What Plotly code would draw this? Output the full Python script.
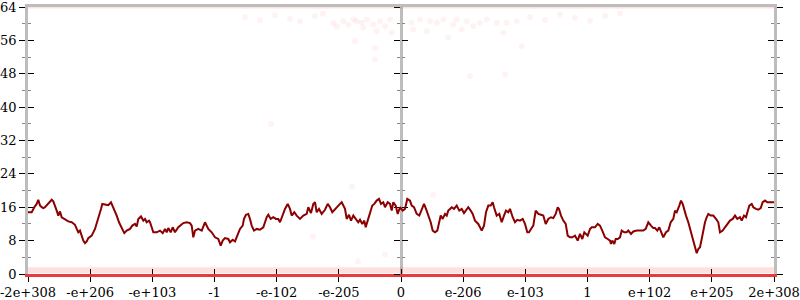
import plotly.graph_objects as go

# x positions are ordinal offsets from 0 (the axis spans -373..373, 13 evenly spaced ticks)
x_tick_labels = ["-2e+308", "-e+206", "-e+103", "-1", "-e-102", "-e-205", "0",
                 "e-206", "e-103", "1", "e+102", "e+205", "2e+308"]
y_tick_values = [0, 8, 16, 24, 32, 40, 48, 56, 64]

line_x = [
    -373, -369.3, -366.7, -364.3, -362.7, -361, -359.3, -357.7, -356, -354.3, -352, -349.3, -347.7, -346,
    -344.3, -342.7, -341, -339.3, -336, -332.7, -329.3, -326, -324.3, -322.7, -321, -319.3, -317.7, -316,
    -314.3, -312.7, -309.3, -306, -302.7, -300, -298.7, -296, -292.7, -290, -288.7, -286.7, -284.3, -282,
    -279.3, -276.7, -274.3, -271, -268.7, -266, -264.3, -262.7, -260, -257.7, -256, -254.3, -252,
    -251, -249.3, -247.7, -244.3, -241, -238.3, -236, -234.3, -232.7, -230.3, -228.3, -226, -222.7, -217.7,
    -214.3, -211, -209.3, -207.7, -206, -202.7, -199.3, -196, -192.7, -189.3, -186, -182.7, -180.3, -178.3,
    -176, -172.7, -171, -168.3, -166, -163.7, -161, -158.3, -157, -155, -152.7, -151, -149.3, -147, -144.3,
    -141, -137.7, -134.3, -132.7, -130.3, -127.7, -125, -122.7,
    -121, -118.7, -116, -113.3, -111, -109.3, -106.7, -104.3, -101, -97.7, -94.3, -92.7, -90, -87.7, -86,
    -84.3, -82, -79.3, -76, -73.3, -71, -68.7, -66, -63.3, -61, -59.3, -57.7, -56, -54.3, -52, -50, -47.7,
    -45.3, -42.7, -41, -38.7, -36.7, -35.3, -33.3, -31, -28.7, -26.7, -24.3, -22, -20, -17.7, -16, -13.3,
    -11, -9.3, -7.7, -5.3, -3.3, -1,
    1.7, 4, 6.3, 9, 10.7, 13, 15.7, 18.3, 20.7, 23, 25, 27.3, 29.7, 31.7, 34, 36.3, 38.3, 39.7, 41.7, 44,
    45.7, 47.3, 49, 50.7, 53, 55.7, 58.3, 60.7, 63, 65.7, 67.3, 69.7, 71.7, 74, 77.3, 80.7, 83, 85, 87.3,
    89.7, 91.7, 93, 95.7, 98.3, 100.7, 103, 105, 107.3, 109, 111.7, 114, 116.3, 119, 121.7, 124, 126.3,
    128, 130, 132.3, 134.7, 137.3, 140, 142.3, 144.7, 147.3, 150, 152.3, 154.7, 156.7, 158, 160, 162.3,
    164.7, 166.7, 169, 171.3, 174, 176.7, 179, 181.3, 183.3, 186.7, 189, 190.7, 194, 196.7, 199, 201.3,
    204, 206.7, 209, 210, 211.3, 213.3, 214.7, 216.7, 219, 220.7, 223.3, 225.7, 227.3, 230, 232.3, 235.7,
    239, 242.3, 244.7, 247.3, 250, 252.3,
    254, 256.3, 258.3, 260.7, 262.3, 265, 267.3, 269.7, 272.3, 274, 275.7, 278.3, 280, 281.7, 283.3, 285,
    287.3, 289.7, 292.3, 294, 295.7, 297.3, 299, 300.7, 302.3, 304, 305.7, 307.3, 309.7, 312.3, 315, 317.3,
    319, 321.7, 324, 326.3, 329, 331.7, 334, 336.3, 339, 340.7, 343, 345, 346.3, 348.3, 350.7, 352.3, 355,
    357.3, 359.7, 361.7, 364, 366.3, 369, 373,
]
line_y = [
    14.8, 14.8, 16, 16.8, 17.8, 16.4, 16, 15.8, 16, 16.4, 17, 17.8, 17.4, 16, 15.2, 14, 15, 13.6, 13, 12.6,
    12.4, 11.8, 10.8, 10, 10.4, 9.2, 8, 7.4, 7.8, 8.6, 9.2, 10.8, 13.2, 15.6, 16.8, 16.6, 16.5, 17.2, 16.5,
    15.2, 14, 12.4, 11.2, 9.8, 10.4, 10.8, 11.6, 12, 11.4, 13.2, 13.8, 12.8, 13.2, 12.4, 12.8,
    12.4, 11.2, 10, 10, 10.4, 9.8, 10.8, 10, 11, 10, 11.2, 10, 11.2, 12.2, 12.4, 12.2, 11.6, 8.8, 10.4,
    10.8, 10.4, 12.4, 10.8, 10, 8.8, 8.4, 6.8, 8, 8.6, 8.4, 7.6, 8.2, 7.8, 9.2, 10.8, 11.6, 13.2, 14.2,
    14.4, 13.2, 11.6, 10.4, 10.8, 10.6, 11.2, 13.6, 14.2, 13.2, 13.6, 13.2, 13.2,
    12.4, 14, 15.6, 16.8, 15.6, 14, 14.8, 14, 13.2, 14, 14.4, 16, 14.6, 16.8, 17.2, 14.8, 15.6, 14.4, 15.4,
    16.8, 16, 14.8, 15.6, 16.4, 16.8, 17.2, 16.2, 15.6, 13.2, 14.2, 12.8, 14, 13.2, 12.4, 13, 12, 12.8,
    11.2, 12.8, 14.8, 16.4, 16.8, 17.6, 18, 16.8, 17.2, 16, 17.2, 16.8, 15.2, 17.2, 16.4, 14.4, 16,
    15.2, 15.6, 18, 17.6, 16.4, 16, 14.4, 14, 15.6, 16.8, 15.6, 14, 12.4, 10.4, 10, 10.4, 12.4, 14, 13.2,
    14.4, 14, 15.2, 15.6, 16, 15.6, 16.4, 15.2, 15.6, 14.6, 15.6, 16, 15.2, 14.4, 12.8, 12, 10.4, 11.6,
    14.8, 16.4, 16.4, 17.2, 16, 14, 14.4, 12.4, 14, 15.2, 14.8, 15.6, 13.6, 12.4, 13, 12.8, 13.2, 12, 10,
    10, 10.8, 11.6, 15.2, 14.4, 14.2, 14, 12, 13.2, 13.6, 13.4, 14.4, 16, 15.6, 14, 12.8, 12, 9.2, 8.8,
    8.8, 9.2, 8, 9.6, 8.4, 10, 9.2, 10.8, 11.2, 11.2, 12, 11.6, 10.4, 8.8, 8.4, 8, 7.2, 8, 7.2, 8.4, 8.4,
    8.8, 10.4, 10, 10, 10.4, 9.6, 10.2, 10.4, 10.4, 10.4, 10.8, 12.4, 11.6, 11,
    11, 10.4, 11.2, 10, 8.8, 10, 10.4, 12.4, 13.2, 15.2, 14.8, 16.4, 17.6, 16.8, 15.2, 14, 12.4, 10.4, 8,
    6.4, 5, 6, 6.4, 8.4, 10.8, 12.4, 13.6, 14.4, 14, 14, 13.2, 12.4, 10, 10.4, 11.2, 12, 12.8, 13.2, 14,
    13.2, 13.6, 12.8, 14, 13.6, 14.8, 16.4, 16.8, 16, 15.6, 15.4, 15.8, 17.2, 17.6, 17.2, 17.2, 17.2,
]

# scattered individual error samples (faint points)
pts_x = [
    -67.7, -64.3, -57.7, -52.7, -47.7, -44.3, -39.3, -37.7, -34.3, -27.7, -24.3, -26, -21, -16, -11, -9.3,
    10.7, 12.3, 19, 25.7, 29, 35.7, 42.3, 47.3, 52.3, 55.7, 60.7, 65.7, 72.3, 79, 85.7, 95.7, 102.3, 105.7,
    115.7, 120.7, 69, 104, -46, -26,
    -156, -141, -126, -111, -101, -86, -78, 129, 144, 159, 174, 189, 204, 219,
    -16, -43, 32, -49, -88, -130,
]
pts_y = [
    60.2, 59.4, 60.6, 59.8, 61, 60.6, 60.2, 59, 61, 59.8, 58.2, 54.2, 60.6, 59.4, 61, 57.8,
    60.2, 58.6, 61, 58.2, 60.6, 60.2, 61, 56.6, 59.8, 61, 58.6, 60.6, 59.4, 60.2, 61, 60.2, 57.8, 60.2,
    60.6, 54.6, 47.4, 47.8, 55.8, 51.4,
    61.5, 60.8, 62, 61.2, 60.5, 61.8, 62.4, 61.6, 60.9, 62.2, 61.4, 60.7, 61.9, 62.5,
    4.7, 3, 19, 21, 9, 36,
]

# dense bands of samples (errors of about 1 bit and exactly 64 bits)
band_levels = [0.9, 64]

fig = go.Figure()

fig.add_trace(go.Scatter(
    x=pts_x, y=pts_y, mode="markers",
    marker=dict(size=6, color="rgba(255,0,0,0.05)", line=dict(width=0)),
    hoverinfo="skip", showlegend=False,
))

band_styles = [
    dict(width=6, color="rgba(255,0,0,0.12)"),
    dict(width=3, color="rgba(255,0,0,0.12)"),
]
for lvl, st in zip(band_levels, band_styles):
    fig.add_trace(go.Scatter(
        x=[-373, 373], y=[lvl, lvl], mode="lines", line=st,
        hoverinfo="skip", showlegend=False,
    ))

fig.add_trace(go.Scatter(
    x=line_x, y=line_y, mode="lines",
    line=dict(color="#8b0000", width=2), showlegend=False,
))

tickvals_x = [(i - 6) * 373 / 6 for i in range(len(x_tick_labels))]
axis_gray = "#bdbdbd"
zero_red = "rgb(232,60,60)"  # samples with exactly 0 bits of error stack along the bottom
font = dict(family="'DejaVu Serif', 'Liberation Serif', serif", size=13, color="black")

common_y = dict(range=[0, 64], tickvals=y_tick_values, showgrid=False, zeroline=False, automargin=False,
                ticklen=6, tickcolor="black", tickwidth=1, layer="below traces")
minor_out = dict(ticks="outside", dtick=4, tick0=0, ticklen=3, tickcolor="#888", tickwidth=1, showgrid=False)
minor_in = dict(ticks="inside", dtick=4, tick0=0, ticklen=3, tickcolor="#888", tickwidth=1, showgrid=False)

fig.update_layout(
    width=800, height=300,
    margin=dict(l=28, r=26, t=7, b=26, autoexpand=False),
    paper_bgcolor="white", plot_bgcolor="white",
    font=font,
    xaxis=dict(range=[-373, 373], tickvals=tickvals_x, ticktext=x_tick_labels, automargin=False,
               showgrid=False, zeroline=False, showline=True, linecolor=zero_red, linewidth=2.5,
               ticks="outside", ticklen=5, tickcolor="black", tickwidth=1,
               ticklabeloverflow="allow", tickfont=font, layer="below traces"),
    xaxis2=dict(range=[-373, 373], tickvals=tickvals_x, overlaying="x", anchor="y", automargin=False,
                showgrid=False, zeroline=False, showline=False, ticks="inside", ticklen=5,
                tickcolor="black", showticklabels=False, layer="below traces"),
    xaxis3=dict(range=[-373, 373], overlaying="x", anchor="y", side="top", automargin=False,
                showgrid=False, zeroline=False, showline=True, linecolor=axis_gray, linewidth=2.5,
                ticks="", showticklabels=False, layer="below traces"),
    yaxis=dict(**common_y, showline=True, linecolor=axis_gray, linewidth=2.5, mirror="ticks",
               ticks="outside", minor=minor_out, tickfont=font, ticklabeloverflow="allow"),
    yaxis2=dict(**common_y, overlaying="y", anchor="x", showline=False, mirror="ticks",
                ticks="inside", minor=minor_in, showticklabels=False),
    yaxis3=dict(**common_y, overlaying="y", anchor="free", position=0.5, showline=True,
                linecolor=axis_gray, linewidth=3, ticks="outside", minor=minor_out,
                showticklabels=False),
    yaxis4=dict(**common_y, overlaying="y", anchor="free", position=0.5, showline=False,
                ticks="inside", minor=minor_in, showticklabels=False),
)

# invisible traces so overlay axes are rendered
for ax in ["y2", "y3", "y4"]:
    fig.add_trace(go.Scatter(x=[0], y=[0], yaxis=ax, mode="markers",
                             marker=dict(opacity=0), hoverinfo="skip", showlegend=False))
for ax in ["x2", "x3"]:
    fig.add_trace(go.Scatter(x=[0], y=[0], xaxis=ax, mode="markers",
                             marker=dict(opacity=0), hoverinfo="skip", showlegend=False))

fig.write_html("out.html")
